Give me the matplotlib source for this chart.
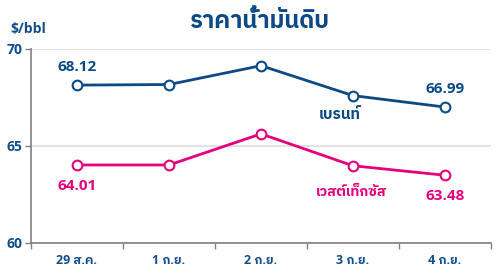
import matplotlib
matplotlib.use('Agg')
import matplotlib.pyplot as plt
from matplotlib.ticker import FixedLocator

plt.rcParams['font.family'] = ['Open Sans', 'IBM Plex Sans Thai', 'DejaVu Sans']

categories = ['29 ส.ค.', '1 ก.ย.', '2 ก.ย.', '3 ก.ย.', '4 ก.ย.']
brent = [68.12, 68.15, 69.12, 67.58, 66.99]
wti = [64.01, 64.01, 65.61, 63.97, 63.48]
yticks = [60, 65, 70]

blue = '#0b4a85'
pink = '#e5007d'
label_blue = '#124e8c'

fig = plt.figure(figsize=(5, 2.76), dpi=100)
ax = fig.add_axes([0.062, 0.12, 0.92, 0.704])
x = list(range(len(categories)))

for vals, col in [(brent, blue), (wti, pink)]:
    ax.plot(x, vals, color=col, lw=2, marker='o', ms=7, mfc='white',
            mec=col, mew=1.5, zorder=3, clip_on=False)

ax.set_xlim(-0.5, len(categories) - 0.5)
ax.set_ylim(60, 70)
ax.set_yticks(yticks)
ax.set_yticklabels([str(v) for v in yticks], fontsize=10, fontweight='bold', color=label_blue)
ax.yaxis.grid(True, color='#e3e3e3', lw=1.5)
ax.set_axisbelow(True)

ax.set_xticks(x)
ax.set_xticklabels(categories, fontsize=9, fontweight='bold', color=label_blue)
ax.xaxis.set_minor_locator(FixedLocator([i - 0.5 for i in range(len(categories) + 1)]))
ax.tick_params(axis='x', which='major', length=0, pad=8)
ax.tick_params(axis='x', which='minor', length=4, color='#808080', width=1)
ax.tick_params(axis='y', length=4, color='#808080', width=1, pad=2)

for s in ['top', 'right']:
    ax.spines[s].set_visible(False)
for s in ['left', 'bottom']:
    ax.spines[s].set_color('#808080')
    ax.spines[s].set_linewidth(1.2)

fs = 11
ax.annotate(f'{brent[0]:.2f}', (x[0], brent[0]), xytext=(0, 13), textcoords='offset points',
            ha='center', va='center', fontsize=fs, fontweight='bold', color=blue)
ax.annotate(f'{brent[-1]:.2f}', (x[-1], brent[-1]), xytext=(0, 13), textcoords='offset points',
            ha='center', va='center', fontsize=fs, fontweight='bold', color=blue)
ax.annotate(f'{wti[0]:.2f}', (x[0], wti[0]), xytext=(0, -15), textcoords='offset points',
            ha='center', va='center', fontsize=fs, fontweight='bold', color=pink)
ax.annotate(f'{wti[-1]:.2f}', (x[-1], wti[-1]), xytext=(0, -15), textcoords='offset points',
            ha='center', va='center', fontsize=fs, fontweight='bold', color=pink)
ax.text(2.86, 66.6, 'เบรนท์', ha='center', va='center', fontsize=fs,
        fontweight='bold', color=blue)
ax.text(2.98, 62.6, 'เวสต์เท็กซัส', ha='center', va='center', fontsize=10.2,
        fontweight='bold', color=pink)

fig.text(0.52, 0.92, 'ราคาน้ำมันดิบ', ha='center', va='center', fontsize=17,
         fontweight='bold', color=blue)
fig.text(0.02, 0.895, '$/bbl', ha='left', va='center', fontsize=10,
         fontweight='bold', color=label_blue)

fig.savefig('out.png', dpi=100)
